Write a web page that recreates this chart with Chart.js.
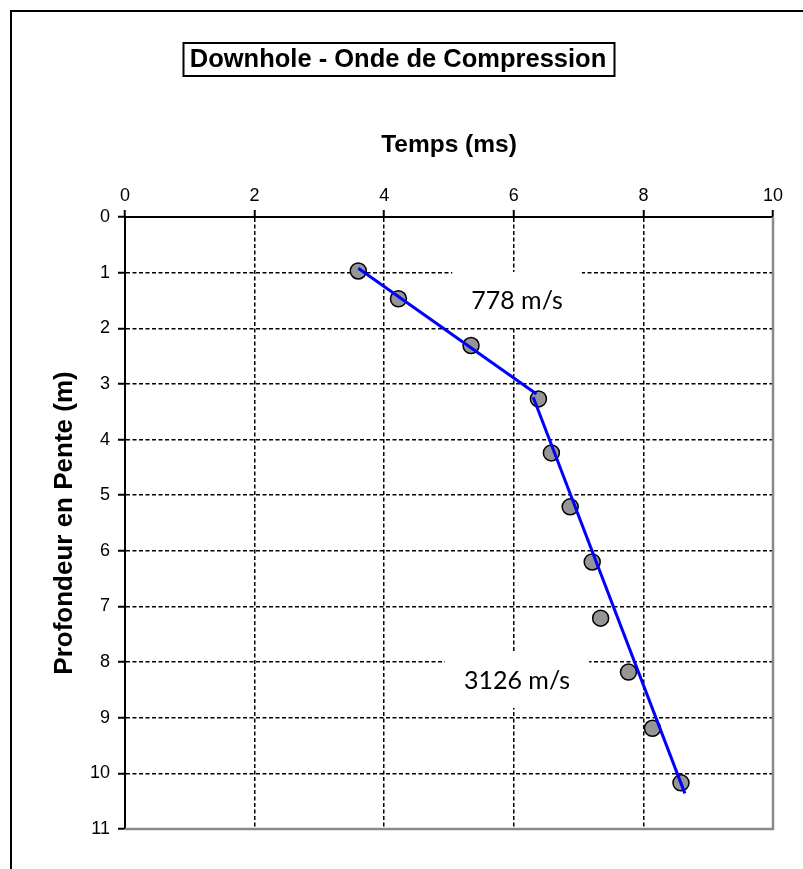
<!DOCTYPE html>
<html>
<head>
<meta charset="utf-8">
<script src="https://cdn.jsdelivr.net/npm/chart.js@4.4.1/dist/chart.umd.min.js"></script>
<style>
  html, body { margin: 0; padding: 0; background: #fff; overflow: hidden; }
  #wrap { position: relative; width: 803px; height: 869px; overflow: hidden; }
  #frame { position: absolute; left: 10px; top: 10px; width: 900px; height: 900px;
           border-left: 2px solid #000; border-top: 2px solid #000; }
  #c { position: absolute; left: 0; top: 0; }
</style>
</head>
<body>
<div id="wrap">
  <div id="frame"></div>
  <canvas id="c" width="803" height="869"></canvas>
</div>
<script>
// Measured arrivals: travel time (ms) against slant depth (m)
const timeMs  = [3.60, 4.22, 5.34, 6.38, 6.58, 6.87, 7.21, 7.34, 7.77, 8.14, 8.58];
const depthM  = [0.97, 1.47, 2.31, 3.27, 4.24, 5.21, 6.20, 7.21, 8.18, 9.19, 10.17];

// Fitted velocity segments
const fit1Time  = [3.60, 6.35];
const fit1Depth = [0.92, 3.18];
const fit2Time  = [6.30, 8.64];
const fit2Depth = [3.24, 10.36];

// Velocity annotations
const velocityText  = ['778 m/s', '3126 m/s'];
const velocityTime  = [6.05, 6.05];
const velocityDepth = [1.49, 8.32];

// Axis ticks
const timeTicks  = [0, 2, 4, 6, 8, 10];
const depthTicks = [0, 1, 2, 3, 4, 5, 6, 7, 8, 9, 10, 11];

const titleText = 'Downhole - Onde de Compression';
const SANS = "'Liberation Sans', Arial, Helvetica, sans-serif";
const TITLE_SIZE = 25.5;
const TITLE_PAD_TOP = 44.5;
const TITLE_BLOCK_H = TITLE_SIZE * 1.2 + TITLE_PAD_TOP;
const PLOT_TOP = 217;

const toXY = (xs, ys) => xs.map((x, i) => ({ x: x, y: ys[i] }));

// Box around the chart title
const titleBoxPlugin = {
  id: 'titleBox',
  afterDraw(chart) {
    const tb = chart.titleBlock;
    if (!tb) return;
    const ctx = chart.ctx;
    ctx.save();
    ctx.font = 'bold ' + TITLE_SIZE + 'px ' + SANS;
    const w = ctx.measureText(titleText).width;
    const cx = (tb.left + tb.right) / 2;
    const cy = tb.top + TITLE_PAD_TOP + TITLE_SIZE * 1.2 / 2;
    ctx.lineWidth = 2;
    ctx.strokeStyle = '#000';
    ctx.strokeRect(Math.round(cx - w / 2 - 7) + 0.5, Math.round(cy - 16.5), Math.round(w + 14), 33);
    ctx.restore();
  }
};

// Grey plot-area edge on the right and bottom
const plotEdgePlugin = {
  id: 'plotEdge',
  beforeDatasetsDraw(chart) {
    const { ctx, chartArea: a } = chart;
    ctx.save();
    ctx.strokeStyle = '#8a8a8a';
    ctx.lineWidth = 2.5;
    ctx.beginPath();
    ctx.moveTo(a.right, a.top);
    ctx.lineTo(a.right, a.bottom);
    ctx.lineTo(a.left, a.bottom);
    ctx.stroke();
    ctx.restore();
  }
};

// Velocity labels on white boxes that mask the grid
const velocityLabelPlugin = {
  id: 'velocityLabels',
  beforeDatasetsDraw(chart) {
    const ctx = chart.ctx;
    const xs = chart.scales.x, ys = chart.scales.y;
    ctx.save();
    ctx.font = "25px Lato, 'Open Sans', sans-serif";
    ctx.textAlign = 'center';
    ctx.textBaseline = 'middle';
    velocityText.forEach((t, i) => {
      const px = xs.getPixelForValue(velocityTime[i]);
      const py = ys.getPixelForValue(velocityDepth[i]);
      const w = ctx.measureText(t).width;
      ctx.fillStyle = '#fff';
      ctx.fillRect(px - w / 2 - 19, py - 28, w + 38, 56);
      ctx.fillStyle = '#000';
      ctx.fillText(t, px, py + 1);
    });
    ctx.restore();
  }
};

const edgeColor = (lo, hi) => (c) =>
  (c.tick && (c.tick.value === lo || c.tick.value === hi)) ? 'rgba(0,0,0,0)' : '#000';

new Chart(document.getElementById('c'), {
  type: 'scatter',
  data: {
    datasets: [
      {
        data: toXY(fit1Time, fit1Depth),
        showLine: true, borderColor: '#0000ff', borderWidth: 3,
        pointRadius: 0, fill: false
      },
      {
        data: toXY(fit2Time, fit2Depth),
        showLine: true, borderColor: '#0000ff', borderWidth: 3,
        pointRadius: 0, fill: false
      },
      {
        data: toXY(timeMs, depthM),
        showLine: false,
        pointRadius: 8, pointHoverRadius: 8,
        backgroundColor: '#969696', borderColor: '#000', borderWidth: 1.5
      }
    ]
  },
  options: {
    responsive: false,
    animation: false,
    events: [],
    layout: { padding: { left: 23, right: 30, top: 0, bottom: 40 } },
    plugins: {
      legend: { display: false },
      tooltip: { enabled: false },
      title: {
        display: true,
        text: titleText,
        color: '#000',
        font: { family: SANS, size: TITLE_SIZE, weight: 'bold' },
        padding: { top: TITLE_PAD_TOP, bottom: 0 }
      }
    },
    scales: {
      x: {
        type: 'linear', position: 'top', min: 0, max: 10,
        afterBuildTicks: (s) => { s.ticks = timeTicks.map(v => ({ value: v })); },
        afterFit: (s) => { s.height = PLOT_TOP - TITLE_BLOCK_H; },
        ticks: { color: '#000', padding: 3, font: { family: SANS, size: 18 } },
        grid: { color: edgeColor(0, 10), lineWidth: 1.5, tickColor: '#000', tickLength: 7, tickWidth: 2 },
        border: { display: true, color: '#000', width: 2, dash: [4, 2.5] },
        title: {
          display: true, text: 'Temps (ms)', color: '#000',
          font: { family: SANS, size: 24.5, weight: 'bold' },
          padding: { top: 55, bottom: 0 }
        }
      },
      y: {
        type: 'linear', position: 'left', reverse: true, min: 0, max: 11,
        afterBuildTicks: (s) => { s.ticks = depthTicks.map(v => ({ value: v })); },
        afterFit: (s) => { s.width = 102; },
        ticks: { color: '#000', padding: 8, font: { family: SANS, size: 18 } },
        grid: { color: edgeColor(0, 11), lineWidth: 1.5, tickColor: '#000', tickLength: 7, tickWidth: 2 },
        border: { display: true, color: '#000', width: 2, dash: [4, 2.5] },
        title: {
          display: true, text: 'Profondeur en Pente (m)', color: '#000',
          font: { family: SANS, size: 26, weight: 'bold' },
          padding: { top: 26, bottom: 0 }
        }
      }
    }
  },
  plugins: [titleBoxPlugin, plotEdgePlugin, velocityLabelPlugin]
});
</script>
</body>
</html>
